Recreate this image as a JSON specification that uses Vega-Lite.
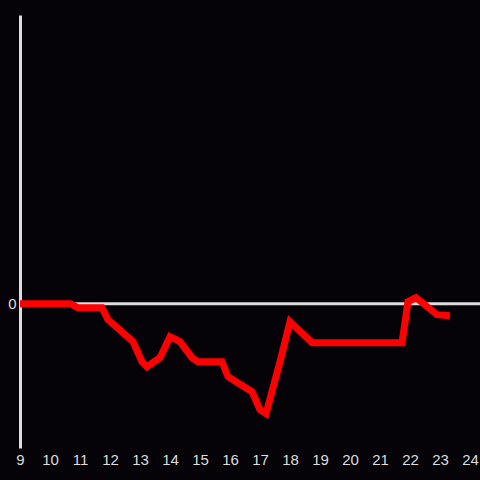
{
  "$schema": "https://vega.github.io/schema/vega-lite/v6.json",
  "width": 460,
  "height": 433,
  "autosize": {"type": "none"},
  "padding": {"left": 20, "top": 15, "right": 0, "bottom": 32},
  "background": "#050307",
  "config": {
    "view": {"stroke": null, "fill": "#050307"},
    "axis": {"grid": false, "ticks": false, "labelColor": "#dddddd"}
  },
  "data": {"values": [
    {"hour": 9.0, "value": 0},
    {"hour": 10.667, "value": 0},
    {"hour": 10.933, "value": -0.028},
    {"hour": 11.733, "value": -0.028},
    {"hour": 11.933, "value": -0.111},
    {"hour": 12.767, "value": -0.263},
    {"hour": 13.067, "value": -0.402},
    {"hour": 13.233, "value": -0.437},
    {"hour": 13.667, "value": -0.374},
    {"hour": 14.0, "value": -0.229},
    {"hour": 14.333, "value": -0.263},
    {"hour": 14.733, "value": -0.374},
    {"hour": 14.933, "value": -0.402},
    {"hour": 15.733, "value": -0.402},
    {"hour": 15.933, "value": -0.506},
    {"hour": 16.733, "value": -0.61},
    {"hour": 17.0, "value": -0.735},
    {"hour": 17.2, "value": -0.762},
    {"hour": 17.667, "value": -0.402},
    {"hour": 18.0, "value": -0.125},
    {"hour": 18.733, "value": -0.27},
    {"hour": 21.733, "value": -0.27},
    {"hour": 21.933, "value": 0.014},
    {"hour": 22.2, "value": 0.042},
    {"hour": 22.9, "value": -0.076},
    {"hour": 23.333, "value": -0.083}
  ]},
  "layer": [
    {
      "data": {"values": [{"zero": 0}]},
      "mark": {"type": "rule", "color": "#dddddd", "strokeWidth": 3},
      "encoding": {"y": {"field": "zero", "type": "quantitative", "scale": {"domain": [-1, 2]}}}
    },
    {
      "mark": {"type": "line", "color": "#ff0000", "strokeWidth": 7},
      "encoding": {
        "x": {"field": "hour", "type": "quantitative", "scale": {"domain": [9, 24.333], "nice": false, "zero": false},
              "axis": {"title": null, "domain": false, "values": [9,10,11,12,13,14,15,16,17,18,19,20,21,22,23,24], "labelPadding": 4, "labelFlush": false, "labelFont": "Liberation Sans", "labelFontSize": 15, "labelColor": "#dddddd"}},
        "y": {"field": "value", "type": "quantitative", "scale": {"domain": [-1, 2], "nice": false},
              "axis": {"title": null, "values": [0], "format": "d", "domainColor": "#dddddd", "domainWidth": 3, "labelPadding": 4, "labelBaseline": "middle", "labelFont": "Liberation Sans", "labelFontSize": 15, "labelColor": "#dddddd"}}
      }
    }
  ]
}
